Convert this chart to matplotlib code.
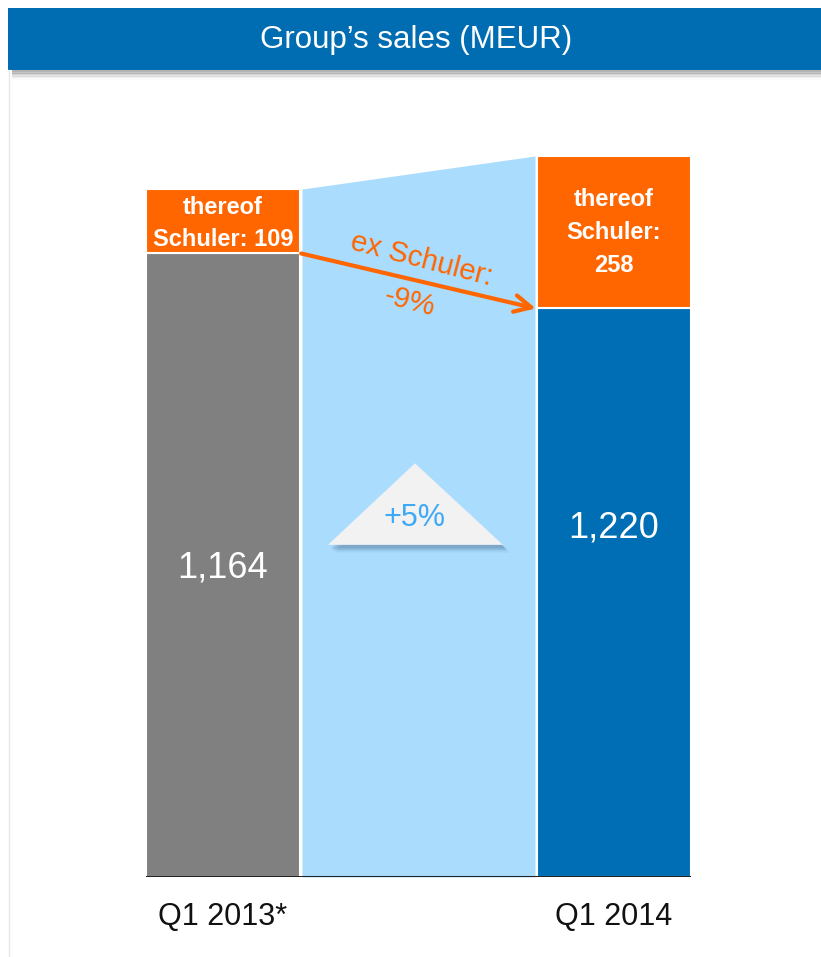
import matplotlib.pyplot as plt
from matplotlib.patches import Rectangle, Polygon

plt.rcParams['font.family'] = ['Liberation Sans', 'DejaVu Sans']

# data (MEUR)
quarters = ["Q1 2013*", "Q1 2014"]
total_sales = [1164, 1220]
schuler = [109, 258]
ex_schuler = [t - s for t, s in zip(total_sales, schuler)]

gray = "#808080"
blue = "#006EB5"
orange = "#FF6600"
light_blue = "#AADCFE"
header_blue = "#006DB3"

W, H = 821, 957
fig = plt.figure(figsize=(W / 100, H / 100), dpi=100)
fig.patch.set_facecolor("white")

# header bar with shadow
for i, a in enumerate([0.18, 0.14, 0.10, 0.07, 0.04, 0.02]):
    fig.patches.append(Rectangle((12 / W, (H - 72 - i * 1.5) / H), (W - 12) / W, 3 / H,
                                 transform=fig.transFigure, color="black", alpha=a, lw=0))
fig.patches.append(Rectangle((8 / W, (H - 70) / H), (W - 8) / W, 62 / H,
                             transform=fig.transFigure, color=header_blue, lw=0))
fig.text(416 / W, 1 - 40 / H, "Group\u2019s sales (MEUR)", color="white", fontsize=22.5,
         ha="center", va="center")
fig.add_artist(plt.Line2D([8.5 / W, 8.5 / W], [0, (H - 70) / H], color="#e6e6e6", lw=1))

# chart
w = 0.394
px = 0.591  # pixels per MEUR
ax = fig.add_axes([146 / W, 80 / H, 545 / W, 777 / H])
ax.set_xlim(-w / 2, 1 + w / 2)
ax.set_ylim(0, 777 / px)
ax.axis("off")

x = [0, 1]
gap = 0.005
ax.fill_between([w / 2 + gap, 1 - w / 2 - gap], [0, 0], total_sales, color=light_blue, lw=0, zorder=1)
ax.bar(x, ex_schuler, width=w, color=[gray, blue], edgecolor="white", lw=1.5, zorder=2)
ax.bar(x, schuler, bottom=ex_schuler, width=w, color=orange, edgecolor="white", lw=1.5, zorder=2)
ax.axhline(0, color="#222222", lw=2.2, zorder=3)

# labels
for i in x:
    ax.text(i, -25 / px, quarters[i], ha="center", va="top", fontsize=22, color="#111111")
ax.text(0, 522, f"{total_sales[0]:,}", ha="center", va="center", fontsize=26, color="white", zorder=4)
ax.text(1, 590, f"{total_sales[1]:,}", ha="center", va="center", fontsize=26, color="white", zorder=4)
ax.text(0, ex_schuler[0] + schuler[0] / 2 - 3, f"thereof\nSchuler: {schuler[0]}", ha="center",
        va="center", fontsize=17, fontweight="bold", color="white", linespacing=1.5, zorder=4)
ax.text(1, ex_schuler[1] + schuler[1] / 2, f"thereof\nSchuler:\n{schuler[1]}", ha="center",
        va="center", fontsize=17, fontweight="bold", color="white", linespacing=1.55, zorder=4)

# ex Schuler arrow
ax.annotate("", xy=(1 - w / 2 - 0.003, ex_schuler[1]), xytext=(w / 2 + 0.003, ex_schuler[0]),
            arrowprops=dict(arrowstyle="->", color=orange, lw=3, mutation_scale=30,
                            shrinkA=0, shrinkB=0), zorder=5)
ex_change = (ex_schuler[1] / ex_schuler[0] - 1) * 100
ax.text(0.508, 1045, "ex Schuler:", rotation=-14.5, ha="center", va="center", fontsize=21,
        color=orange, zorder=5, rotation_mode="anchor")
ax.text(0.478, 974, f"{ex_change:.0f}%", rotation=-14.5, ha="center", va="center", fontsize=21,
        color=orange, zorder=5, rotation_mode="anchor")

# growth triangle
tri = [(0.2685, 562), (0.491, 700), (0.716, 562)]
for k, a in enumerate([0.14, 0.10, 0.07, 0.04]):
    dx, dy = 0.008 + k * 0.003, -6 - k * 2.5
    ax.add_patch(Polygon([(p[0] + dx, p[1] + dy) for p in tri], closed=True, color="#1a3a5a",
                         alpha=a, lw=0, zorder=3))
ax.add_patch(Polygon(tri, closed=True, color="#F2F2F2", lw=0, zorder=4))
growth = (total_sales[1] / total_sales[0] - 1) * 100
ax.text(0.491, 607, f"{growth:+.0f}%", ha="center", va="center", fontsize=22, color="#3FA9F5", zorder=5)

fig.savefig("out.png", dpi=100)
